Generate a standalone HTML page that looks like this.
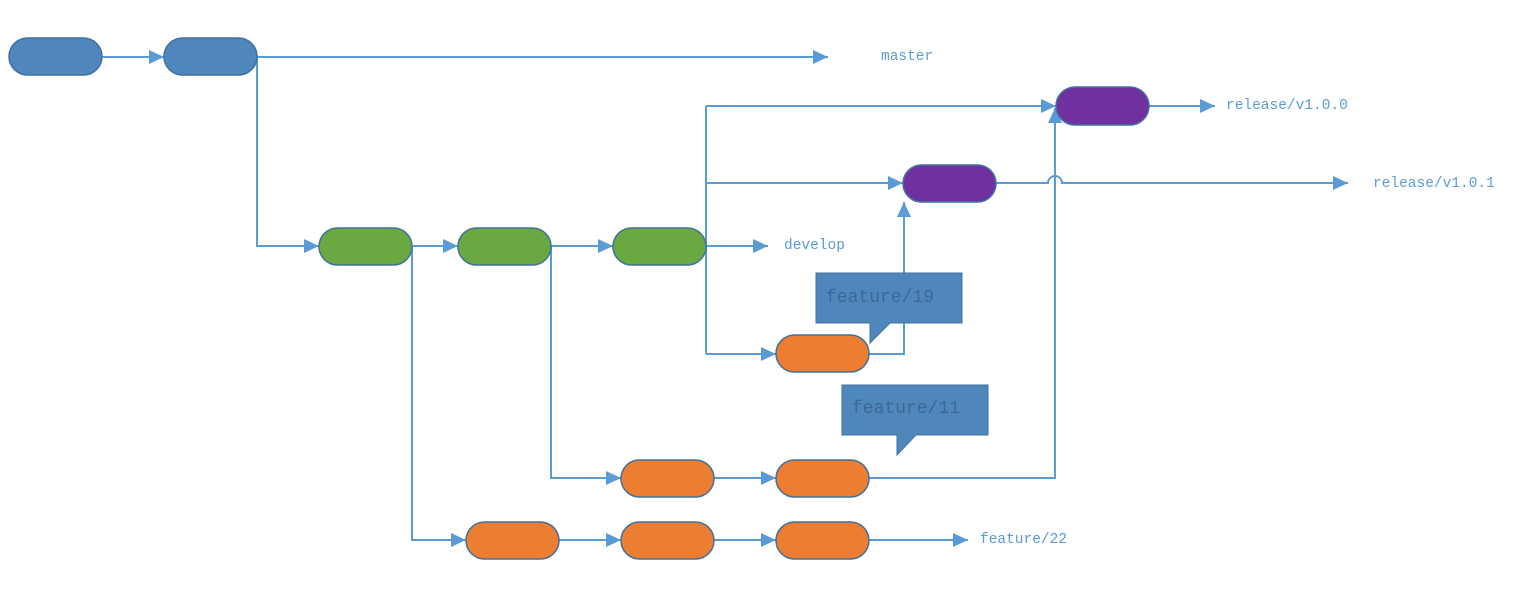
<!DOCTYPE html>
<html><head><meta charset="utf-8"><style>
html,body{margin:0;padding:0;background:#fff;}
svg{display:block;}
.l{fill:none;stroke:#5b9bd5;stroke-width:2;}
.t{font-family:"Liberation Mono",monospace;font-size:14.5px;fill:#5b9bd5;dominant-baseline:central;}
.c{font-family:"Liberation Mono",monospace;font-size:18px;fill:#3b6896;dominant-baseline:central;}
</style></head><body>
<svg width="1531" height="598" viewBox="0 0 1531 598">
<defs>
<marker id="a" viewBox="0 0 16 16" markerWidth="16" markerHeight="16" refX="15" refY="8" orient="auto" markerUnits="userSpaceOnUse">
<path d="M0,1 L15,8 L0,15 Z" fill="#5b9bd5"/></marker>
</defs>
<path class="l" d="M102,57 H164" marker-end="url(#a)"/>
<path class="l" d="M257,57 H828" marker-end="url(#a)"/>
<path class="l" d="M257,57 V246 H319" marker-end="url(#a)"/>
<path class="l" d="M412,246 H458" marker-end="url(#a)"/>
<path class="l" d="M551,246 H613" marker-end="url(#a)"/>
<path class="l" d="M706,246 H768" marker-end="url(#a)"/>
<path class="l" d="M706,106 V354"/>
<path class="l" d="M706,106 H1056" marker-end="url(#a)"/>
<path class="l" d="M706,183 H903" marker-end="url(#a)"/>
<path class="l" d="M706,354 H776" marker-end="url(#a)"/>
<path class="l" d="M869,354 H904 V202" marker-end="url(#a)"/>
<path class="l" d="M996,183 H1048 A7,7 0 0 1 1062,183 H1348" marker-end="url(#a)"/>
<path class="l" d="M1149,106 H1215" marker-end="url(#a)"/>
<path class="l" d="M551,246 V478 H621" marker-end="url(#a)"/>
<path class="l" d="M714,478 H776" marker-end="url(#a)"/>
<path class="l" d="M869,478 H1055 V108" marker-end="url(#a)"/>
<path class="l" d="M412,246 V540 H466" marker-end="url(#a)"/>
<path class="l" d="M559,540 H621" marker-end="url(#a)"/>
<path class="l" d="M714,540 H776" marker-end="url(#a)"/>
<path class="l" d="M869,540 H968" marker-end="url(#a)"/>
<g stroke="#41719c" stroke-width="1.5">
<rect x="9" y="38" width="93" height="37" rx="18.5" fill="#4f86bd"/>
<rect x="164" y="38" width="93" height="37" rx="18.5" fill="#4f86bd"/>
<rect x="319" y="228" width="93" height="37" rx="18.5" fill="#6aa841"/>
<rect x="458" y="228" width="93" height="37" rx="18.5" fill="#6aa841"/>
<rect x="613" y="228" width="93" height="37" rx="18.5" fill="#6aa841"/>
<rect x="1056" y="87" width="93" height="38" rx="19" fill="#7030a0"/>
<rect x="903" y="165" width="93" height="37" rx="18.5" fill="#7030a0"/>
<rect x="776" y="335" width="93" height="37" rx="18.5" fill="#ed7d31"/>
<rect x="621" y="460" width="93" height="37" rx="18.5" fill="#ed7d31"/>
<rect x="776" y="460" width="93" height="37" rx="18.5" fill="#ed7d31"/>
<rect x="466" y="522" width="93" height="37" rx="18.5" fill="#ed7d31"/>
<rect x="621" y="522" width="93" height="37" rx="18.5" fill="#ed7d31"/>
<rect x="776" y="522" width="93" height="37" rx="18.5" fill="#ed7d31"/>
</g>
<path d="M816,273 H962 V323 H890 L870,343 V323 H816 Z" fill="#4f86bc" stroke="#41719c" stroke-width="1"/>
<text class="c" x="826" y="298">feature/19</text>
<path d="M842,385 H988 V435 H916 L897,455 V435 H842 Z" fill="#4f86bc" stroke="#41719c" stroke-width="1"/>
<text class="c" x="852" y="409">feature/11</text>
<text class="t" x="881" y="57">master</text>
<text class="t" x="1226" y="106">release/v1.0.0</text>
<text class="t" x="1373" y="184">release/v1.0.1</text>
<text class="t" x="784" y="246">develop</text>
<text class="t" x="980" y="540">feature/22</text>
</svg>
</body></html>
